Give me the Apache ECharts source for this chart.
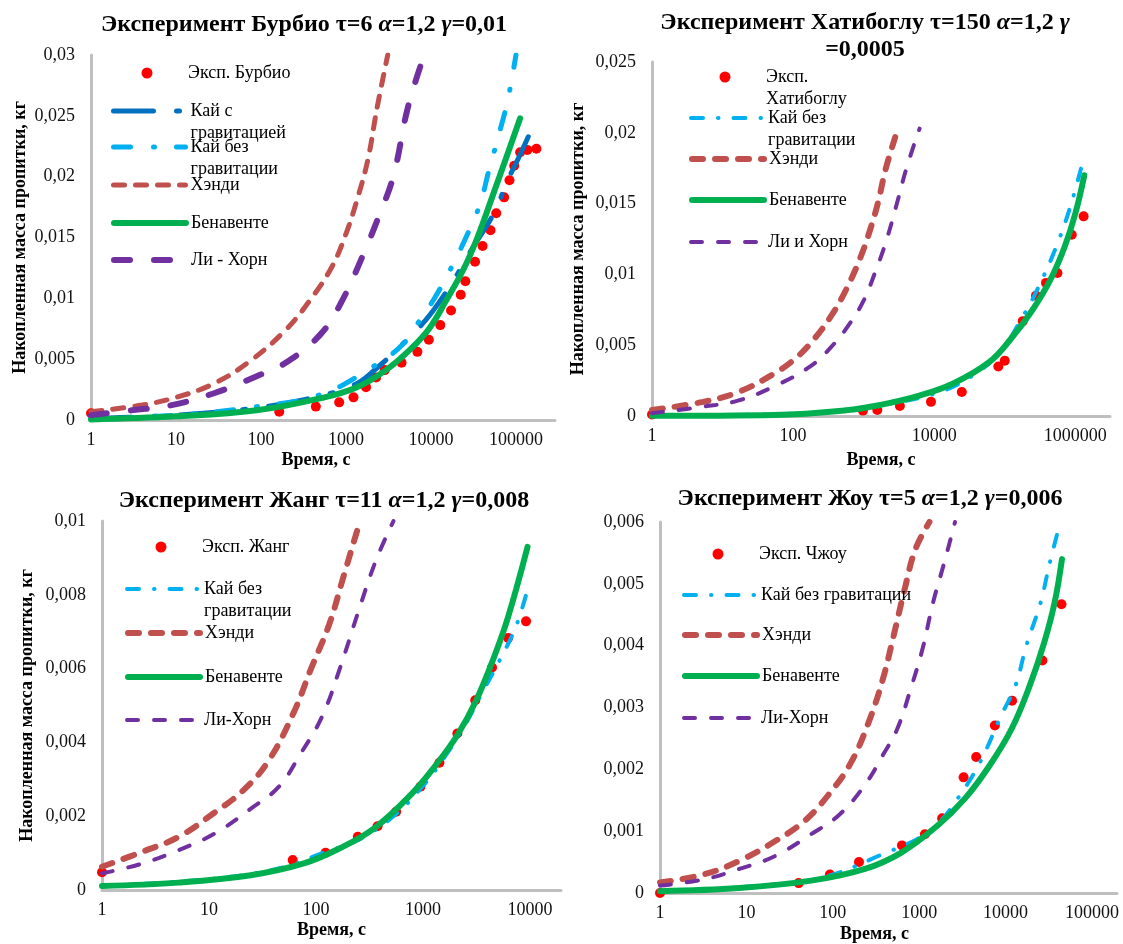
<!DOCTYPE html>
<html>
<head>
<meta charset="utf-8">
<script src="https://cdn.jsdelivr.net/npm/echarts@6/dist/echarts.min.js"></script>
<style>
  html, body { margin: 0; padding: 0; background: #fff; }
  #chart { width: 1123px; height: 944px; }
</style>
</head>
<body>
<div id="chart"></div>
<script>
  // --- данные: [время, с ; масса, кг] ---
  // Бурбио
  const p1Exp = [[1, 0.00055], [164, 0.00068], [442, 0.0011], [832, 0.00145], [1226, 0.00186], [1722, 0.0027], [2262, 0.0035], [2856, 0.0041], [4510, 0.0047], [6920, 0.0056], [9440, 0.0066], [12870, 0.0078], [17230, 0.009], [22400, 0.0103], [25400, 0.0114], [33000, 0.013], [40500, 0.0143], [50200, 0.0156], [58600, 0.017], [72600, 0.0183], [83900, 0.0197], [95300, 0.0209], [112000, 0.022], [136000, 0.0222], [174000, 0.0223]]
  const p1KaiG = [[1, 0.00014], [10, 0.0004], [89, 0.001], [510, 0.002], [1350, 0.003], [2420, 0.0044], [3600, 0.0055], [7700, 0.0078], [12000, 0.0095], [20500, 0.012], [30000, 0.014], [55000, 0.017], [80000, 0.0197], [110000, 0.0217], [175000, 0.0248]]
  const p1Kai = [[1, 0.00014], [10, 0.0004], [89, 0.0011], [510, 0.0021], [2200, 0.0045], [4800, 0.0063], [7700, 0.0084], [11000, 0.01], [18500, 0.0129], [27000, 0.0153], [38000, 0.0178], [48000, 0.0205], [62000, 0.0233], [80000, 0.0263], [100000, 0.03]]
  const p1Handy = [[1, 0.00068], [4, 0.00123], [10.5, 0.0019], [28, 0.003], [73, 0.0048], [195, 0.0074], [382, 0.0099], [684, 0.0126], [1000, 0.0153], [1350, 0.0181], [1810, 0.0214], [2300, 0.0255], [3100, 0.03]]
  const p1Ben = [[1, 0.00005], [10, 0.0003], [89, 0.0008], [510, 0.0018], [1350, 0.0027], [2950, 0.0041], [5900, 0.0059], [9500, 0.0075], [15300, 0.0099], [25000, 0.0126], [36600, 0.0153], [53000, 0.0184], [80000, 0.0219], [112000, 0.0248]]
  const p1Li = [[1, 0.0004], [3, 0.0008], [8.6, 0.0012], [28, 0.0022], [89, 0.0036], [195, 0.0047], [510, 0.0071], [915, 0.0099], [1620, 0.0137], [2420, 0.0167], [3600, 0.02], [5270, 0.0255], [7700, 0.0293]]
  // Хатибоглу
  const p2Exp = [[1, 0.0001], [977, 0.00038], [1560, 0.00042], [3260, 0.0007], [9000, 0.001], [24600, 0.0017], [81000, 0.0035], [100000, 0.0039], [180000, 0.0067], [277000, 0.0085], [384000, 0.0094], [558000, 0.0101], [890000, 0.0128], [1310000, 0.0141]]
  const p2Kai = [[1, 0.00002], [175, 0.0002], [1800, 0.0008], [10400, 0.0016], [33800, 0.0028], [85000, 0.0045], [170000, 0.0068], [300000, 0.0091], [560000, 0.0122], [900000, 0.0152], [1340000, 0.0184]]
  const p2Handy = [[1, 0.00042], [5.3, 0.001], [16.9, 0.0017], [54, 0.003], [110, 0.0041], [196, 0.0054], [350, 0.0071], [560, 0.0089], [900, 0.0112], [1280, 0.0134], [1620, 0.0152], [2040, 0.0174], [2800, 0.0197]]
  const p2Ben = [[1, 0.00001], [54, 0.00007], [560, 0.0004], [1800, 0.0008], [5800, 0.0014], [18600, 0.0023], [60000, 0.0038], [120000, 0.0054], [240000, 0.0074], [440000, 0.0096], [700000, 0.0119], [1000000, 0.0143], [1340000, 0.017]]
  const p2Li = [[1, 0.0002], [5.3, 0.00066], [17, 0.0011], [54, 0.0021], [175, 0.0035], [350, 0.0049], [630, 0.0065], [1010, 0.0082], [1440, 0.0101], [2040, 0.0122], [2880, 0.0148], [4100, 0.0176], [6200, 0.0203]]
  // Жанг
  const p3Exp = [[1, 0.00048], [60.6, 0.00081], [123, 0.00101], [246, 0.00144], [376, 0.00173], [561, 0.00212], [947, 0.0028], [1425, 0.00345], [2095, 0.00424], [3080, 0.00514], [4420, 0.00603], [6250, 0.00683], [9190, 0.00728]]
  const p3Kai = [[1, 0.00011], [11.3, 0.00031], [52, 0.00063], [114, 0.001], [246, 0.00135], [530, 0.002], [985, 0.0028], [1680, 0.0037], [2500, 0.0045], [3660, 0.0054], [5370, 0.0063], [7300, 0.0071], [9200, 0.008]]
  const p3Handy = [[1, 0.00063], [2.4, 0.00104], [5.2, 0.00144], [11.3, 0.0021], [20.9, 0.0027], [36, 0.0035], [61.7, 0.0048], [90, 0.006], [133, 0.0072], [181, 0.0085], [246, 0.0098]]
  const p3Ben = [[1, 0.00011], [5.2, 0.0002], [24.5, 0.0004], [77, 0.00072], [167, 0.00113], [360, 0.0017], [780, 0.0026], [1330, 0.0034], [2100, 0.0042], [3100, 0.0051], [4600, 0.0063], [6250, 0.0074], [9500, 0.0093]]
  const p3Li = [[1, 0.00045], [2.4, 0.00072], [5.2, 0.00108], [11.3, 0.00153], [24.5, 0.0022], [45, 0.0028], [72, 0.0037], [114, 0.0047], [167, 0.006], [246, 0.0075], [360, 0.0089], [530, 0.01]]
  // Жоу
  const p4Exp = [[1, 0], [40.3, 0.00016], [92.7, 0.0003], [201, 0.0005], [632, 0.00077], [1165, 0.00095], [1844, 0.00121], [3270, 0.00187], [4570, 0.0022], [7520, 0.00271], [11900, 0.00311], [26700, 0.00376], [44400, 0.00467]]
  const p4Kai = [[1, 0.00002], [21.6, 0.00014], [90, 0.00028], [380, 0.00063], [1000, 0.00089], [1750, 0.00116], [2800, 0.00153], [5000, 0.0021], [8900, 0.00287], [13000, 0.00335], [17400, 0.004], [25500, 0.0047], [32000, 0.0053], [43000, 0.006]]
  const p4Handy = [[1, 0.00017], [3.2, 0.0003], [8.3, 0.00052], [21.6, 0.00084], [46.6, 0.00116], [90.6, 0.0016], [161, 0.0021], [260, 0.00276], [380, 0.00346], [506, 0.00416], [676, 0.0049], [900, 0.00555], [1315, 0.006]]
  const p4Ben = [[1, 0.00003], [8.3, 0.00008], [56, 0.0002], [236, 0.00039], [615, 0.00065], [1600, 0.00108], [3400, 0.00153], [6600, 0.00207], [11800, 0.00266], [19000, 0.00335], [28000, 0.00405], [37000, 0.0047], [45000, 0.0054]]
  const p4Li = [[1, 0.00012], [3.2, 0.00022], [8.3, 0.00039], [21.6, 0.0006], [56, 0.00095], [120, 0.00127], [236, 0.00175], [380, 0.00223], [560, 0.00266], [818, 0.00335], [1090, 0.00394], [1450, 0.0047], [1940, 0.00533], [2600, 0.006]]

  // оси
  const yMax = [0.03, 0.025, 0.01, 0.006]
  const yStep = [0.005, 0.005, 0.002, 0.001]
  const xMax = [288000, 3100000, 19500, 195000]

  const FONT = '"Liberation Serif", "Times New Roman", serif'
  const LH = 22 // высота строки в легенде
  const IW = 72 // ширина значка легенды

  const panels = [
    {
      title: '{b|Эксперимент Бурбио τ=6 }{i|α}{b|=1,2 }{i|γ}{b|=0,01}',
      titleX: 304, titleTop: 11,
      grid: { left: 91, top: 55, width: 464, height: 365 },
      yName: 'Накопленная масса пропитки, кг', yGap: 62, xGap: 31, xPad: [0, 14, 0, 0], xStep: 1,
      legend: { left: 111, ys: [71, 109, 145, 183, 221, 258] },
      series: [
        { label: 'Эксп. Бурбио', data: p1Exp, dot: true },
        { label: 'Кай с\nгравитацией', data: p1KaiG, color: '#0070c0', width: 5, dash: [40, 23, 3, 23] },
        { label: 'Кай без\nгравитации', data: p1Kai, color: '#00b0f0', width: 5, dash: [17, 23, 1, 22] },
        { label: 'Хэнди', data: p1Handy, color: '#c0504d', width: 5, dash: [11, 11] },
        { label: 'Бенавенте', data: p1Ben, color: '#00b050', width: 6 },
        { label: 'Ли - Хорн', data: p1Li, color: '#7030a0', width: 6, dash: [16, 24] }
      ]
    },
    {
      title: '{b|Эксперимент Хатибоглу τ=150 }{i|α}{b|=1,2 }{i|γ}\n{b|=0,0005}',
      titleX: 865, titleTop: 9,
      grid: { left: 652, top: 62, width: 458, height: 354 },
      yName: 'Накопленная масса пропитки, кг', yGap: 65, xGap: 35, xPad: 0, xStep: 2,
      legend: { left: 689, ys: [75, 116, 157, 198, 240] },
      series: [
        { label: 'Эксп.\nХатибоглу', data: p2Exp, dot: true },
        { label: 'Кай без\nгравитации', data: p2Kai, color: '#00b0f0', width: 4, dash: [12, 15, 0.5, 15] },
        { label: 'Хэнди', data: p2Handy, color: '#c0504d', width: 6, dash: [11, 12] },
        { label: 'Бенавенте', data: p2Ben, color: '#00b050', width: 6 },
        { label: 'Ли и Хорн', data: p2Li, color: '#7030a0', width: 4, dash: [11, 16] }
      ]
    },
    {
      title: '{b|Эксперимент Жанг τ=11 }{i|α}{b|=1,2 }{i|γ}{b|=0,008}',
      titleX: 324, titleTop: 487,
      grid: { left: 102, top: 521, width: 459, height: 369 },
      yName: 'Накопленная масса пропитки, кг', yGap: 66, xGap: 31, xPad: 0, xStep: 1,
      legend: { left: 125, ys: [545, 587, 631, 675, 718] },
      series: [
        { label: 'Эксп. Жанг', data: p3Exp, dot: true },
        { label: 'Кай без\nгравитации', data: p3Kai, color: '#00b0f0', width: 4, dash: [12, 15, 0.5, 15] },
        { label: 'Хэнди', data: p3Handy, color: '#c0504d', width: 6, dash: [11, 12] },
        { label: 'Бенавенте', data: p3Ben, color: '#00b050', width: 6 },
        { label: 'Ли-Хорн', data: p3Li, color: '#7030a0', width: 4, dash: [11, 16] }
      ]
    },
    {
      title: '{b|Эксперимент Жоу τ=5 }{i|α}{b|=1,2 }{i|γ}{b|=0,006}',
      titleX: 870, titleTop: 485,
      grid: { left: 660, top: 522, width: 457, height: 374 },
      yName: '', yGap: 66, xGap: 32, xPad: [0, 28, 0, 0], xStep: 1,
      legend: { left: 682, ys: [552, 593, 633, 674, 716] },
      series: [
        { label: 'Эксп. Чжоу', data: p4Exp, dot: true },
        { label: 'Кай без гравитации', data: p4Kai, color: '#00b0f0', width: 4, dash: [12, 15, 0.5, 15] },
        { label: 'Хэнди', data: p4Handy, color: '#c0504d', width: 6, dash: [11, 12] },
        { label: 'Бенавенте', data: p4Ben, color: '#00b050', width: 6 },
        { label: 'Ли-Хорн', data: p4Li, color: '#7030a0', width: 4, dash: [11, 16] }
      ]
    }
  ]

  const option = {
    backgroundColor: '#fff',
    animation: false,
    title: [], grid: [], xAxis: [], yAxis: [], legend: [], series: []
  }

  const axisLine = { show: true, onZero: false, lineStyle: { color: '#bfbfbf', width: 3 } }
  const labelText = { fontFamily: FONT, fontSize: 18, color: '#111' }
  const nameText = { fontFamily: FONT, fontSize: 18, fontWeight: 'bold', color: '#000' }
  const titleText = { fontFamily: FONT, fontSize: 24, fontWeight: 'bold', color: '#000', lineHeight: 27 }

  panels.forEach((p, i) => {
    option.title.push({
      text: p.title,
      left: p.titleX, top: p.titleTop, textAlign: 'center', padding: 0,
      textStyle: {
        rich: {
          b: titleText,
          i: Object.assign({}, titleText, { fontStyle: 'italic' })
        }
      }
    })
    option.grid.push(Object.assign({ containLabel: false }, p.grid))
    option.xAxis.push({
      type: 'log', logBase: 10, gridIndex: i, min: 1, max: xMax[i],
      name: 'Время, с', nameLocation: 'middle', nameGap: p.xGap,
      nameTextStyle: Object.assign({ padding: p.xPad }, nameText),
      axisLine: axisLine, axisTick: { show: false }, splitLine: { show: false },
      axisLabel: Object.assign({
        margin: 11, showMaxLabel: false,
        formatter: v => {
          const e = Math.round(Math.log10(v))
          if (e % p.xStep !== 0) return ''
          return String(Math.round(Math.pow(10, e)))
        }
      }, labelText)
    })
    option.yAxis.push({
      type: 'value', gridIndex: i, min: 0, max: yMax[i], interval: yStep[i],
      name: p.yName, nameLocation: 'middle', nameGap: p.yGap, nameTextStyle: nameText,
      axisLine: axisLine, axisTick: { show: false }, splitLine: { show: false },
      axisLabel: Object.assign({
        margin: 16,
        formatter: v => String(+v.toFixed(6)).replace('.', ',')
      }, labelText)
    })
    p.series.forEach((s, k) => {
      const name = 'p' + (i + 1) + '|' + s.label
      if (s.dot) {
        option.series.push({
          name, type: 'scatter', xAxisIndex: i, yAxisIndex: i, data: s.data,
          symbol: 'circle', symbolSize: 10, itemStyle: { color: '#ff0000', opacity: 1 }, z: 2
        })
      } else {
        option.series.push({
          name, type: 'line', xAxisIndex: i, yAxisIndex: i, data: s.data,
          smooth: 0.4, showSymbol: false, symbol: 'none', clip: true, z: 3,
          itemStyle: { color: s.color },
          lineStyle: { color: s.color, width: s.width, type: s.dash || 'solid', cap: 'round' }
        })
      }
      // две строки: пустая строка сверху, чтобы первая строка стояла на уровне значка
      const multi = s.label.indexOf('\n') >= 0
      const lines = multi ? 3 : 1
      const ih = s.dot ? 11 : 14
      const lg = {
        data: [name],
        left: s.dot ? p.legend.left + (IW - ih) / 2 : p.legend.left,
        top: p.legend.ys[k] - lines * LH / 2 + 2,
        orient: 'vertical', padding: 0, itemGap: 0, itemWidth: IW, itemHeight: ih,
        selectedMode: false,
        formatter: n => (multi ? '\u00a0\n' : '') + n.split('|')[1],
        textStyle: { fontFamily: FONT, fontSize: 18, color: '#000', lineHeight: LH }
      }
      if (s.dot) {
        lg.itemStyle = { color: '#ff0000', opacity: 1 }
      } else {
        lg.itemStyle = { opacity: 0 }
        lg.lineStyle = { width: s.width, type: s.dash || 'solid', cap: 'round', color: s.color }
      }
      option.legend.push(lg)
    })
  })

  const chart = echarts.init(document.getElementById('chart'), null, { renderer: 'canvas' })
  chart.setOption(option)
</script>
</body>
</html>
